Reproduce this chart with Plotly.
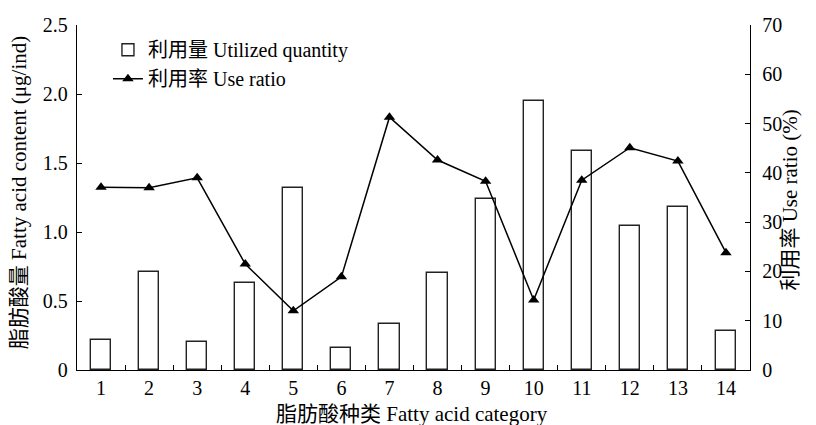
import plotly.graph_objects as go

# Fatty acid categories 1-14
categories = list(range(1, 15))
utilized_quantity = [0.22, 0.71, 0.20, 0.63, 1.32, 0.16, 0.33, 0.705, 1.24, 1.95, 1.59, 1.04, 1.18, 0.28]
use_ratio = [37.1, 37.0, 39.0, 21.5, 12.0, 18.9, 51.3, 42.6, 38.3, 14.2, 38.5, 45.1, 42.4, 23.8]

left_tickvals = [0, 0.5, 1.0, 1.5, 2.0, 2.5]
left_ticktext = ["0", "0.5", "1.0", "1.5", "2.0", "2.5"]
right_tickvals = [0, 10, 20, 30, 40, 50, 60, 70]

x_title = "脂肪酸种类 Fatty acid category"
y_title = "脂肪酸量 Fatty acid content (μg/ind)"
y2_title = "利用率 Use ratio (%)"

FONT = "'Liberation Serif', 'Times New Roman', 'Noto Sans CJK SC', serif"

fig = go.Figure()
fig.add_trace(go.Bar(
    x=categories, y=utilized_quantity, width=0.42,
    name="利用量 Utilized quantity",
    marker=dict(color="white", line=dict(color="#222", width=1.4)),
    yaxis="y",
))
fig.add_trace(go.Scatter(
    x=categories, y=use_ratio, mode="lines+markers",
    name="利用率 Use ratio",
    line=dict(color="black", width=1.5),
    marker=dict(symbol="triangle-up", size=10, color="black"),
    yaxis="y2",
))

boundaries = [c + 0.5 for c in categories[:-1]]

axis_common = dict(
    showline=True, linecolor="black", linewidth=1.3,
    showgrid=False, zeroline=False, automargin=False,
    tickfont=dict(size=20),
)

fig.update_layout(
    width=816, height=425,
    margin=dict(l=77, r=66, t=25, b=55),
    paper_bgcolor="white", plot_bgcolor="white",
    font=dict(family=FONT, size=20, color="black"),
    showlegend=True,
    legend=dict(x=0.046, y=0.985, xanchor="left", yanchor="top",
                bgcolor="rgba(0,0,0,0)", font=dict(size=20), tracegroupgap=2),
    bargap=0,
    xaxis=dict(
        range=[0.5, 14.5], tickvals=categories, ticktext=[str(c) for c in categories],
        ticks="",
        minor=dict(tickmode="array", tickvals=boundaries, ticks="inside",
                   ticklen=5, tickcolor="black", tickwidth=1.2, showgrid=False),
        **axis_common,
    ),
    yaxis=dict(
        range=[0, 2.5], tickvals=left_tickvals, ticktext=left_ticktext,
        ticks="inside", ticklen=5, tickcolor="black", tickwidth=1.2,
        ticklabelstandoff=4,
        **axis_common,
    ),
    yaxis2=dict(
        range=[0, 70], tickvals=right_tickvals, overlaying="y", side="right",
        ticks="inside", ticklen=5, tickcolor="black", tickwidth=1.2,
        ticklabelstandoff=7,
        **axis_common,
    ),
    annotations=[
        dict(text=x_title, xref="paper", yref="paper", x=0.498, y=-0.128,
             xanchor="center", yanchor="middle", showarrow=False, font=dict(size=21)),
        dict(text=y_title, xref="paper", yref="paper", x=-0.086, y=0.513,
             xanchor="center", yanchor="middle", textangle=-90, showarrow=False,
             font=dict(size=21)),
        dict(text=y2_title, xref="paper", yref="paper", x=1.059, y=0.493,
             xanchor="center", yanchor="middle", textangle=-90, showarrow=False,
             font=dict(size=21)),
    ],
)

fig.write_html("out.html")
